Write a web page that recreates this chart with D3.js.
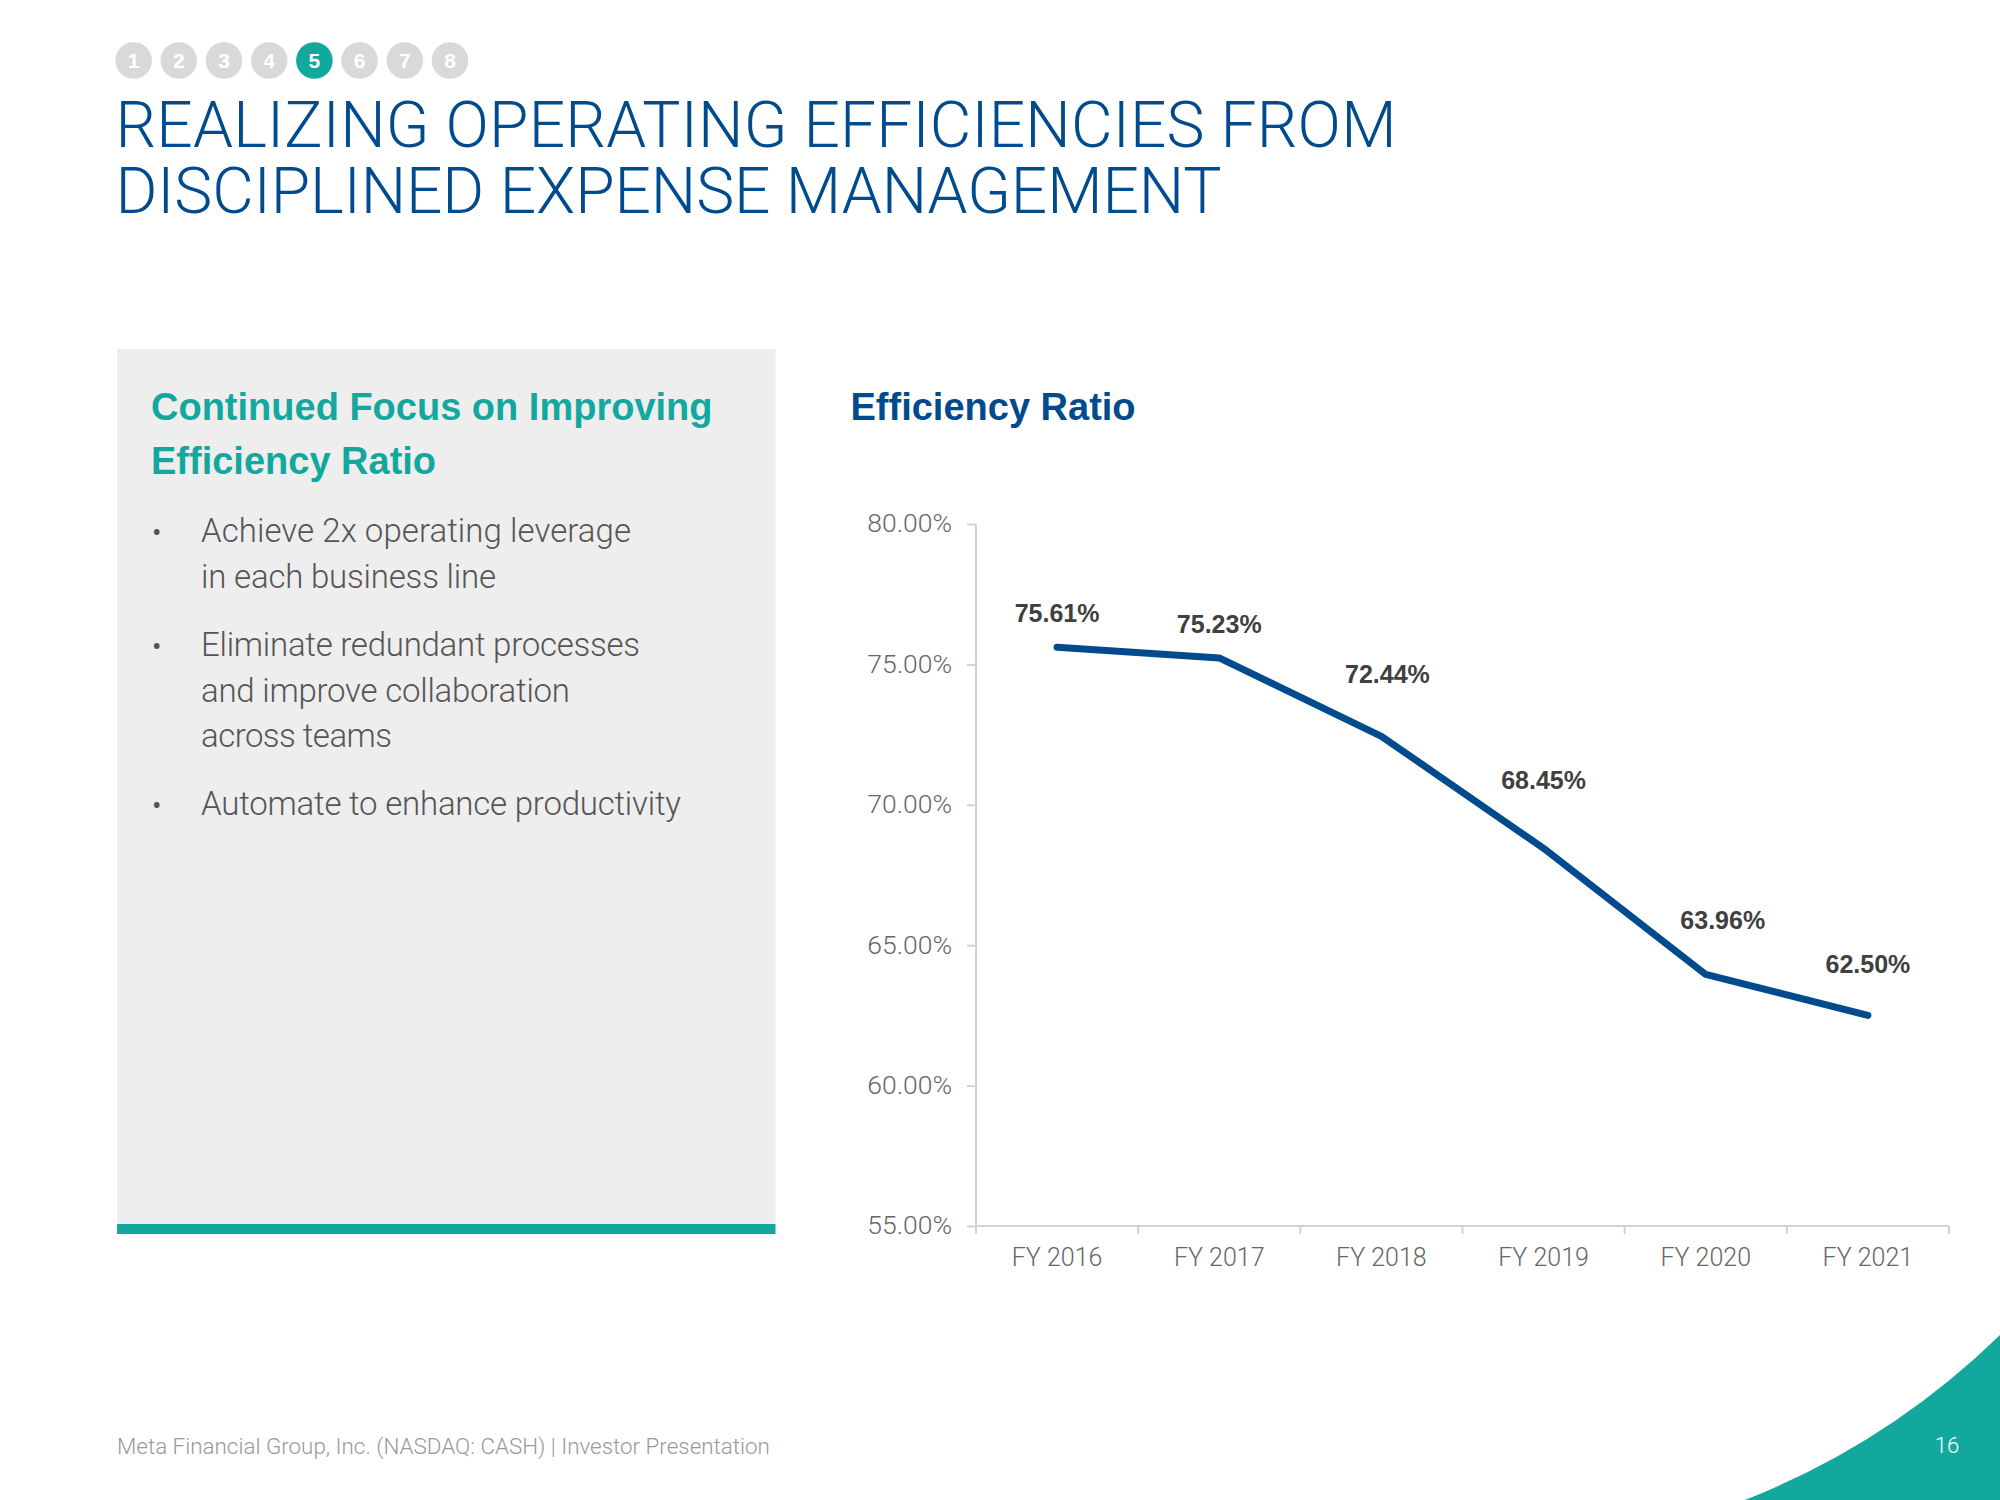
<!DOCTYPE html>
<html><head><meta charset="utf-8"><style>html,body{margin:0;padding:0;background:#fff}svg{display:block}text{font-family:Roboto,"Liberation Sans",sans-serif;font-weight:300}.b{font-family:"Liberation Sans",Arial,sans-serif;font-weight:700}</style>
<script src="https://cdn.jsdelivr.net/npm/d3@7"></script></head><body><svg id="c" width="2000" height="1500"></svg><script>
const categories=["FY 2016","FY 2017","FY 2018","FY 2019","FY 2020","FY 2021"];
const efficiency=[75.61,75.23,72.44,68.45,63.96,62.50];
const yTicks=[55,60,65,70,75,80];
const steps=[1,2,3,4,5,6,7,8];
const activeStep=5;
const titleLines=["REALIZING OPERATING EFFICIENCIES FROM","DISCIPLINED EXPENSE MANAGEMENT"];
const panelHeading=["Continued Focus on Improving","Efficiency Ratio"];
const bullets=[["Achieve 2x operating leverage","in each business line"],["Eliminate redundant processes","and improve collaboration","across teams"],["Automate to enhance productivity"]];

// layout only
const labelDx=[0,0,6,0,17,0];
const labelDy=[-25,-25,-53,-59,-45,-42];
const titleWidths=[1281,1106];
const bulletWidths=[[430,295],[439,369,191],[480]];
const bulletBaselines=[[542,588],[656,701.5,747],[815]];
const BLUE="#004b8d",TEAL="#13a89e",AX="#d2d2d2";

const svg=d3.select("#c");
const T=(s,x,y,size,fill,cls)=>svg.append("text").attr("x",x).attr("y",y).attr("font-size",size).attr("fill",fill).attr("class",cls||null).text(s);
svg.append("rect").attr("width",2000).attr("height",1500).attr("fill","#fff");
svg.append("path").attr("d","M1745,1500A770,770 0 0 0 2000,1335L2000,1500Z").attr("fill",TEAL);
steps.forEach((s,i)=>{const cx=133.6+i*45.2,a=s===activeStep;
 svg.append("circle").attr("cx",cx).attr("cy",60.5).attr("r",18.3).attr("fill",a?TEAL:"#d9d9d9");
 T(s,cx,68,21,"#fff","b").attr("text-anchor","middle");});
titleLines.forEach((l,i)=>T(l,115.5,147+i*65.5,64,BLUE).attr("textLength",titleWidths[i]).attr("lengthAdjust","spacing"));
svg.append("rect").attr("x",117).attr("y",349).attr("width",658.5).attr("height",875.5).attr("fill","#eeeeee");
svg.append("rect").attr("x",117).attr("y",1224).attr("width",658.5).attr("height",10).attr("fill",TEAL);
panelHeading.forEach((l,i)=>T(l,151,419.5+i*54,38,TEAL,"b"));
bullets.forEach((b,i)=>{T("•",152,bulletBaselines[i][0],28,"#555").style("font-weight",400);
 b.forEach((l,j)=>T(l,201,bulletBaselines[i][j],33,"#555").attr("textLength",bulletWidths[i][j]).attr("lengthAdjust","spacing"));});
T("Efficiency Ratio",850.5,419.5,38,BLUE,"b");
const x=d3.scaleBand().domain(categories).range([976,1949]);
const y=d3.scaleLinear().domain([55,80]).range([1226,524]);
const gy=svg.append("g").attr("transform","translate(976,0)").call(d3.axisLeft(y).tickValues(yTicks).tickSize(9).tickPadding(15).tickFormat(d=>d3.format(".2f")(d)+"%"));
const gx=svg.append("g").attr("transform","translate(0,1226)").call(d3.axisBottom(x).tickSize(0).tickPadding(22));
gx.selectAll(".edge").data(d3.range(categories.length+1)).enter().append("line").attr("class","edge")
 .attr("x1",i=>x.range()[0]+i*x.step()).attr("x2",i=>x.range()[0]+i*x.step()).attr("y1",0).attr("y2",8);
svg.selectAll(".domain").attr("stroke",AX).attr("stroke-width",2).attr("d",function(){return this.parentNode===gx.node()?"M976,0H1949":"M0,524V1226"});
svg.selectAll(".tick line,.edge").attr("stroke",AX).attr("stroke-width",2);
gy.selectAll(".tick text").attr("font-size",26.5).attr("fill","#666").attr("font-family",'Roboto,"Liberation Sans",sans-serif').attr("font-weight",300).attr("dy","0.3em");
gx.selectAll(".tick text").attr("font-size",25).attr("fill","#666").attr("font-family",'Roboto,"Liberation Sans",sans-serif').attr("font-weight",300);
const line=d3.line().x((d,i)=>x(categories[i])+x.bandwidth()/2).y(d=>y(d));
svg.append("path").attr("d",line(efficiency)).attr("fill","none").attr("stroke",BLUE).attr("stroke-width",7).attr("stroke-linecap","round").attr("stroke-linejoin","round");
efficiency.forEach((v,i)=>T(d3.format(".2f")(v)+"%",x(categories[i])+x.bandwidth()/2+labelDx[i],y(v)+labelDy[i],25,"#404040","b").attr("text-anchor","middle"));
T("Meta Financial Group, Inc. (NASDAQ: CASH) | Investor Presentation",117,1454,22.4,"#999");
T("16",1947,1453,22,"#fff").attr("text-anchor","middle");
</script></body></html>
